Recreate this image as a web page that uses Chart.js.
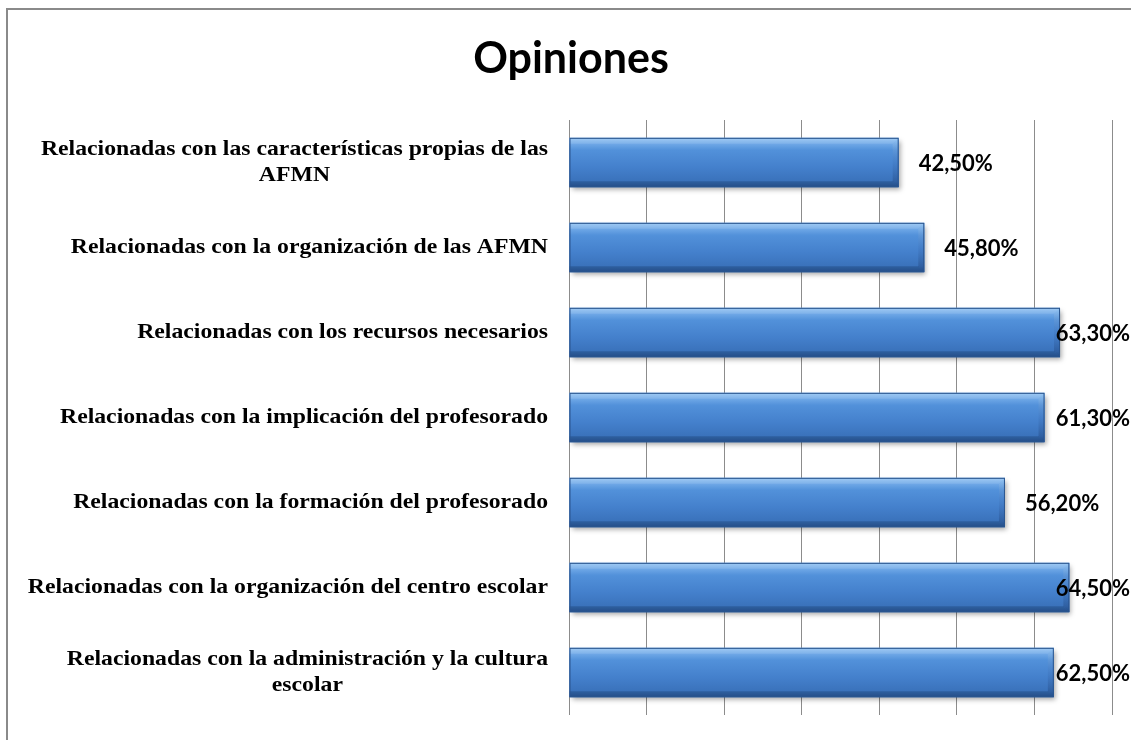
<!DOCTYPE html>
<html>
<head>
<meta charset="utf-8">
<title>Opiniones</title>
<script src="https://cdn.jsdelivr.net/npm/chart.js@4"></script>
<style>
  html, body { margin: 0; padding: 0; background: #fff; }
  #wrap { position: relative; width: 1131px; height: 740px; }
</style>
</head>
<body>
<div id="wrap"><canvas id="opChart"></canvas></div>
<script>
// ---- data ----
const chartTitle = 'Opiniones';
const categories = [
  ['Relacionadas con las características propias de las', 'AFMN'],
  ['Relacionadas con la organización de las AFMN'],
  ['Relacionadas con los recursos necesarios'],
  ['Relacionadas con la implicación del profesorado'],
  ['Relacionadas con la formación del profesorado'],
  ['Relacionadas con la organización del centro escolar'],
  ['Relacionadas con la administración y la cultura', 'escolar']
];
const values = [42.5, 45.8, 63.3, 61.3, 56.2, 64.5, 62.5];
const valueLabels = ['42,50%', '45,80%', '63,30%', '61,30%', '56,20%', '64,50%', '62,50%'];
const axisMin = 0, axisMax = 70, axisStep = 10;

// ---- helpers ----
const LABEL_FONT = 'bold 21px "Liberation Serif", serif';
const LABEL_STRETCH = 1.13;   // Garamond-like labels are wider than Times
const VALUE_FONT = 'bold 22px Lato, "Open Sans", sans-serif';
const TITLE_FONT = 'bold 43px Lato, "Open Sans", sans-serif';

// chart border (only left and top edges are visible) and the title
const frame = {
  id: 'frame',
  beforeDraw(chart) {
    const ctx = chart.ctx;
    ctx.save();
    ctx.strokeStyle = '#8a8a8a';
    ctx.lineWidth = 2;
    ctx.beginPath();
    ctx.moveTo(7, chart.height);
    ctx.lineTo(7, 9);
    ctx.lineTo(chart.width, 9);
    ctx.stroke();
    ctx.font = TITLE_FONT;
    ctx.fillStyle = '#000';
    ctx.textAlign = 'center';
    ctx.textBaseline = 'alphabetic';
    ctx.fillText(chartTitle, 571, 73);
    ctx.restore();
  }
};

// shaded, bevelled bars drawn over the plain ones
const bevelBars = {
  id: 'bevelBars',
  beforeDatasetDraw(chart) {
    const ctx = chart.ctx;
    ctx.save();
    ctx.shadowColor = 'rgba(0,0,0,0.35)';
    ctx.shadowBlur = 5;
    ctx.shadowOffsetX = 2;
    ctx.shadowOffsetY = 3;
  },
  afterDatasetDraw(chart, args) {
    const ctx = chart.ctx;
    ctx.restore();
    args.meta.data.forEach(bar => {
      const x0 = bar.base, x1 = bar.x;
      const yt = bar.y - bar.height / 2, yb = bar.y + bar.height / 2;
      const b = 6;
      ctx.save();
      const g = ctx.createLinearGradient(0, yt, 0, yb);
      g.addColorStop(0, '#93c4f2');
      g.addColorStop(0.1, '#74ace9');
      g.addColorStop(0.25, '#5291da');
      g.addColorStop(0.6, '#4480cc');
      g.addColorStop(0.88, '#3a72bb');
      g.addColorStop(1, '#2c5b9a');
      ctx.fillStyle = g;
      ctx.fillRect(x0, yt, x1 - x0, yb - yt);
      // top bevel
      ctx.fillStyle = 'rgba(255,255,255,0.12)';
      ctx.beginPath();
      ctx.moveTo(x0, yt); ctx.lineTo(x1, yt); ctx.lineTo(x1 - b, yt + b); ctx.lineTo(x0, yt + b);
      ctx.closePath(); ctx.fill();
      // bottom bevel
      ctx.fillStyle = 'rgba(10,30,70,0.22)';
      ctx.beginPath();
      ctx.moveTo(x0, yb); ctx.lineTo(x1, yb); ctx.lineTo(x1 - b, yb - b); ctx.lineTo(x0, yb - b);
      ctx.closePath(); ctx.fill();
      // right bevel
      const gr = ctx.createLinearGradient(0, yt, 0, yb);
      gr.addColorStop(0, 'rgba(160,205,245,0.55)');
      gr.addColorStop(0.5, 'rgba(60,110,180,0.25)');
      gr.addColorStop(1, 'rgba(20,50,100,0.4)');
      ctx.fillStyle = gr;
      ctx.beginPath();
      ctx.moveTo(x1, yt); ctx.lineTo(x1, yb); ctx.lineTo(x1 - b, yb - b); ctx.lineTo(x1 - b, yt + b);
      ctx.closePath(); ctx.fill();
      ctx.strokeStyle = '#2a558f';
      ctx.lineWidth = 1;
      ctx.strokeRect(x0 + 0.5, yt + 0.5, x1 - x0 - 1, yb - yt - 1);
      ctx.restore();
    });
  }
};

// value labels at bar end, pushed left when they would leave the canvas
const valueTags = {
  id: 'valueTags',
  afterDatasetsDraw(chart) {
    const ctx = chart.ctx;
    const meta = chart.getDatasetMeta(0);
    ctx.save();
    ctx.font = VALUE_FONT;
    ctx.fillStyle = '#000';
    ctx.textAlign = 'left';
    ctx.textBaseline = 'middle';
    meta.data.forEach((bar, i) => {
      const txt = valueLabels[i];
      const w = ctx.measureText(txt).width;
      const x = Math.min(bar.x + 20, chart.width - w - 1);
      ctx.fillText(txt, x, bar.y + 1);
    });
    ctx.restore();
  }
};

// category labels: block right aligned, lines centred within the block
const catLabels = {
  id: 'catLabels',
  afterDraw(chart) {
    const ctx = chart.ctx;
    const yScale = chart.scales.y;
    const right = chart.chartArea.left - 21;
    const lh = 26;
    ctx.save();
    ctx.font = LABEL_FONT;
    ctx.fillStyle = '#000';
    ctx.textAlign = 'center';
    ctx.textBaseline = 'middle';
    categories.forEach((lines, i) => {
      const w = Math.max(...lines.map(l => ctx.measureText(l).width)) * LABEL_STRETCH;
      const cx = right - w / 2;
      const cy = yScale.getPixelForTick(i);
      lines.forEach((l, k) => {
        ctx.save();
        ctx.translate(cx, cy + (k - (lines.length - 1) / 2) * lh);
        ctx.scale(LABEL_STRETCH, 1);
        ctx.fillText(l, 0, 0);
        ctx.restore();
      });
    });
    ctx.restore();
  }
};

new Chart(document.getElementById('opChart'), {
  type: 'bar',
  data: {
    labels: categories,
    datasets: [{
      data: values,
      backgroundColor: '#3d7cc9',
      borderWidth: 0,
      categoryPercentage: 1,
      barPercentage: 0.58
    }]
  },
  plugins: [frame, bevelBars, valueTags, catLabels],
  options: {
    indexAxis: 'y',
    responsive: true,
    maintainAspectRatio: false,
    animation: false,
    layout: { padding: { left: 0, right: 19, top: 120, bottom: 25 } },
    plugins: {
      legend: { display: false },
      tooltip: { enabled: false },
      title: { display: false }
    },
    scales: {
      x: {
        min: axisMin,
        max: axisMax,
        ticks: { display: false, stepSize: axisStep },
        grid: { color: '#8c8c8c', lineWidth: 1, drawTicks: false },
        border: { display: false }
      },
      y: {
        ticks: { display: false },
        grid: { display: false },
        border: { display: false },
        afterFit(scale) { scale.width = 569; }
      }
    }
  }
});
</script>
</body>
</html>
